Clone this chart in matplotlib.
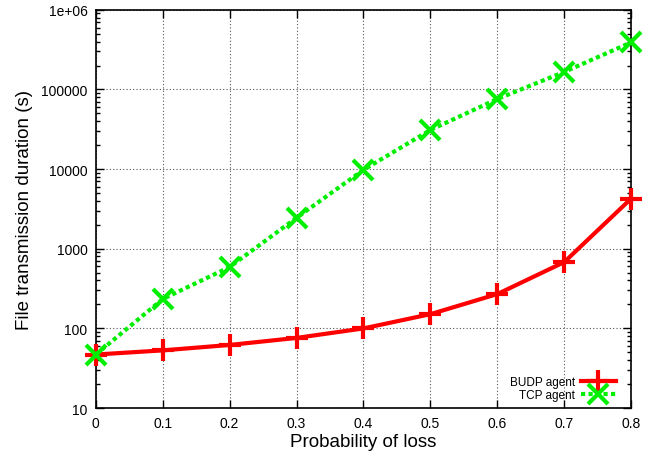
import matplotlib
matplotlib.use("Agg")
import matplotlib.pyplot as plt
from matplotlib.ticker import FixedLocator, LogLocator, NullFormatter

plt.rcParams['font.family'] = ['Liberation Sans', 'DejaVu Sans']

# data
loss = [0, 0.1, 0.2, 0.3, 0.4, 0.5, 0.6, 0.7, 0.8]
budp = [47, 53, 62, 76, 100, 151, 270, 680, 4270]
tcp = [47, 234, 590, 2450, 9800, 31000, 76000, 166000, 390000]

x_ticks = [0, 0.1, 0.2, 0.3, 0.4, 0.5, 0.6, 0.7, 0.8]
x_labels = ["0", "0.1", "0.2", "0.3", "0.4", "0.5", "0.6", "0.7", "0.8"]
y_ticks = [10, 100, 1000, 10000, 100000, 1000000]
y_labels = ["10", "100", "1000", "10000", "100000", "1e+06"]

fig = plt.figure(figsize=(6.52, 4.52), dpi=100)
ax = fig.add_axes([0.147, 0.095, 0.821, 0.881])

ax.plot(loss, budp, color='#ff0000', lw=3, marker='+', ms=16, mew=3,
        label='BUDP agent', clip_on=False, zorder=3)
ax.plot(loss, tcp, color='#00ee00', lw=3, ls=(0, (1, 0.8)), marker='x', ms=14, mew=3,
        label='TCP agent', clip_on=False, zorder=3)

ax.set_yscale('log')
ax.set_xlim(0, 0.8)
ax.set_ylim(10, 1e6)
ax.set_xticks(x_ticks)
ax.set_xticklabels(x_labels)
ax.yaxis.set_major_locator(FixedLocator(y_ticks))
ax.set_yticklabels(y_labels)
ax.yaxis.set_minor_locator(LogLocator(base=10, subs=[2, 3, 4, 5, 6, 7, 8, 9]))
ax.yaxis.set_minor_formatter(NullFormatter())

ax.tick_params(which='both', direction='in', top=True, right=True, labelsize=10)
ax.tick_params(which='major', length=6, width=1, pad=6)
ax.tick_params(which='minor', length=3, width=1)
ax.grid(True, which='major', color='#555555', ls=(0, (1, 2)), lw=0.8)
for s in ax.spines.values():
    s.set_linewidth(1.2)

ax.set_xlabel('Probability of loss', fontsize=13.5, labelpad=2)
ax.set_ylabel('File transmission duration (s)', fontsize=13.5, labelpad=6)

ax.legend(loc='lower right', bbox_to_anchor=(0.985, 0.0), frameon=False,
          markerfirst=False, fontsize=8.5, handlelength=3.0, handletextpad=0.5,
          labelspacing=0.05, borderaxespad=0.2)

fig.savefig('out.png', dpi=100)
